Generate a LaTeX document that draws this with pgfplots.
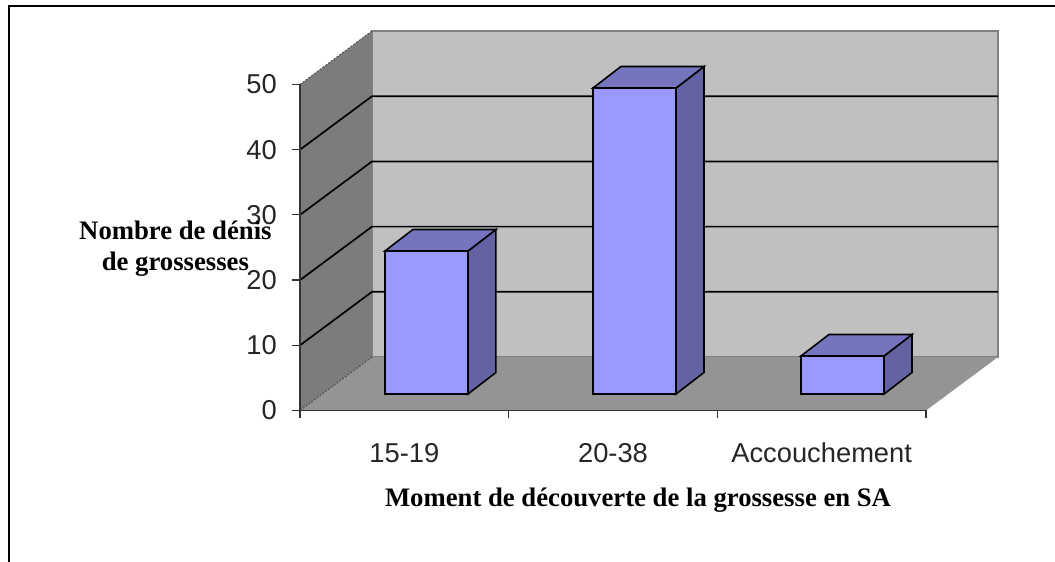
\documentclass[border=0pt]{standalone}
\usepackage{pgfplots}
\usepackage{fontspec}
\pgfplotsset{compat=1.18}
\setmainfont{Liberation Sans}
\newfontfamily\serifbold[BoldFont=Liberation Serif Bold]{Liberation Serif}
\definecolor{wallback}{HTML}{C0C0C0}
\definecolor{wallleft}{HTML}{7C7C7C}
\definecolor{wallfloor}{HTML}{949494}
\definecolor{barfront}{HTML}{9999FF}
\definecolor{bartop}{HTML}{7575BF}
\definecolor{barside}{HTML}{6363A3}
\begin{document}
\begin{tikzpicture}[x=1pt,y=1pt]
\path[use as bounding box] (0,0) rectangle (1055,562);
\draw[black,line width=1.3pt] (9,0) -- (9,556) -- (1055,556);
\begin{axis}[
  at={(300pt,151.5pt)},anchor=south west,
  scale only axis,width=626pt,height=326pt,
  xmin=0,xmax=3,ymin=0,ymax=50,
  clip=false,axis on top,
  axis x line=bottom,axis y line=left,
  axis line style={-,color=black!80,line width=1.6pt},
  tick align=outside,tick pos=lower,
  major tick length=8pt,
  tick style={color=black!80,line width=1.2pt},
  xtick={0,1,2,3},x tick label as interval,
  xticklabels={15-19,20-38,Accouchement},
  ytick={0,10,20,30,40,50},
  /pgf/number format/assume math mode=true,
  tick label style={font=\fontsize{27.3}{30}\selectfont,color=black!85},
  xticklabel style={yshift=-21pt},
  yticklabel style={xshift=-15pt,inner sep=0pt},
  xlabel={\serifbold\bfseries Moment de découverte de la grossesse en SA},
  every axis x label/.style={at={(axis description cs:0.54,-0.274)},anchor=center},
  xlabel style={font=\fontsize{26.7}{30}\selectfont},
  ylabel={\serifbold\bfseries Nombre de dénis\\\serifbold\bfseries de grossesses},
  every axis y label/.style={at={(axis description cs:-0.199,0.495)},anchor=center,align=center},
  ylabel style={font=\fontsize{26.7}{31}\selectfont},
]
% walls
\addplot[draw=black!50,line width=1.4pt,fill=wallback] coordinates {(0.345,8.2)(3.345,8.2)(3.345,58.2)(0.345,58.2)} -- cycle;
\addplot[draw=none,fill=wallleft] coordinates {(0,0)(0.345,8.2)(0.345,58.2)(0,50)} -- cycle;
\addplot[draw=black!70,line width=1pt,dash pattern=on 2pt off 1.5pt] coordinates {(0,50)(0.345,58.2)};
% grid lines
\addplot[black,line width=1.7pt] coordinates {(0,10)(0.345,18.2)(3.345,18.2)};
\addplot[black,line width=1.7pt] coordinates {(0,20)(0.345,28.2)(3.345,28.2)};
\addplot[black,line width=1.7pt] coordinates {(0,30)(0.345,38.2)(3.345,38.2)};
\addplot[black,line width=1.7pt] coordinates {(0,40)(0.345,48.2)(3.345,48.2)};
% floor
\addplot[draw=none,fill=wallfloor] coordinates {(0,0)(3,0)(3.345,8.2)(0.345,8.2)} -- cycle;
\addplot[draw=black!70,line width=1pt,dash pattern=on 2pt off 1.5pt] coordinates {(0,0)(0.345,8.2)};
% bar 1
\addplot[draw=black,line width=1.6pt,fill=barside] coordinates {(0.805,2.53)(0.939,5.83)(0.939,27.76)(0.805,24.46)} -- cycle;
\addplot[draw=black,line width=1.6pt,fill=bartop] coordinates {(0.407,24.46)(0.805,24.46)(0.939,27.76)(0.541,27.76)} -- cycle;
\addplot[draw=black,line width=1.6pt,fill=barfront] coordinates {(0.407,2.53)(0.805,2.53)(0.805,24.46)(0.407,24.46)} -- cycle;
% bar 2
\addplot[draw=black,line width=1.6pt,fill=barside] coordinates {(1.802,2.53)(1.936,5.83)(1.936,52.76)(1.802,49.46)} -- cycle;
\addplot[draw=black,line width=1.6pt,fill=bartop] coordinates {(1.404,49.46)(1.802,49.46)(1.936,52.76)(1.538,52.76)} -- cycle;
\addplot[draw=black,line width=1.6pt,fill=barfront] coordinates {(1.404,2.53)(1.802,2.53)(1.802,49.46)(1.404,49.46)} -- cycle;
% bar 3
\addplot[draw=black,line width=1.6pt,fill=barside] coordinates {(2.799,2.53)(2.933,5.83)(2.933,11.66)(2.799,8.36)} -- cycle;
\addplot[draw=black,line width=1.6pt,fill=bartop] coordinates {(2.401,8.36)(2.799,8.36)(2.933,11.66)(2.535,11.66)} -- cycle;
\addplot[draw=black,line width=1.6pt,fill=barfront] coordinates {(2.401,2.53)(2.799,2.53)(2.799,8.36)(2.401,8.36)} -- cycle;
\end{axis}
\end{tikzpicture}
\end{document}
